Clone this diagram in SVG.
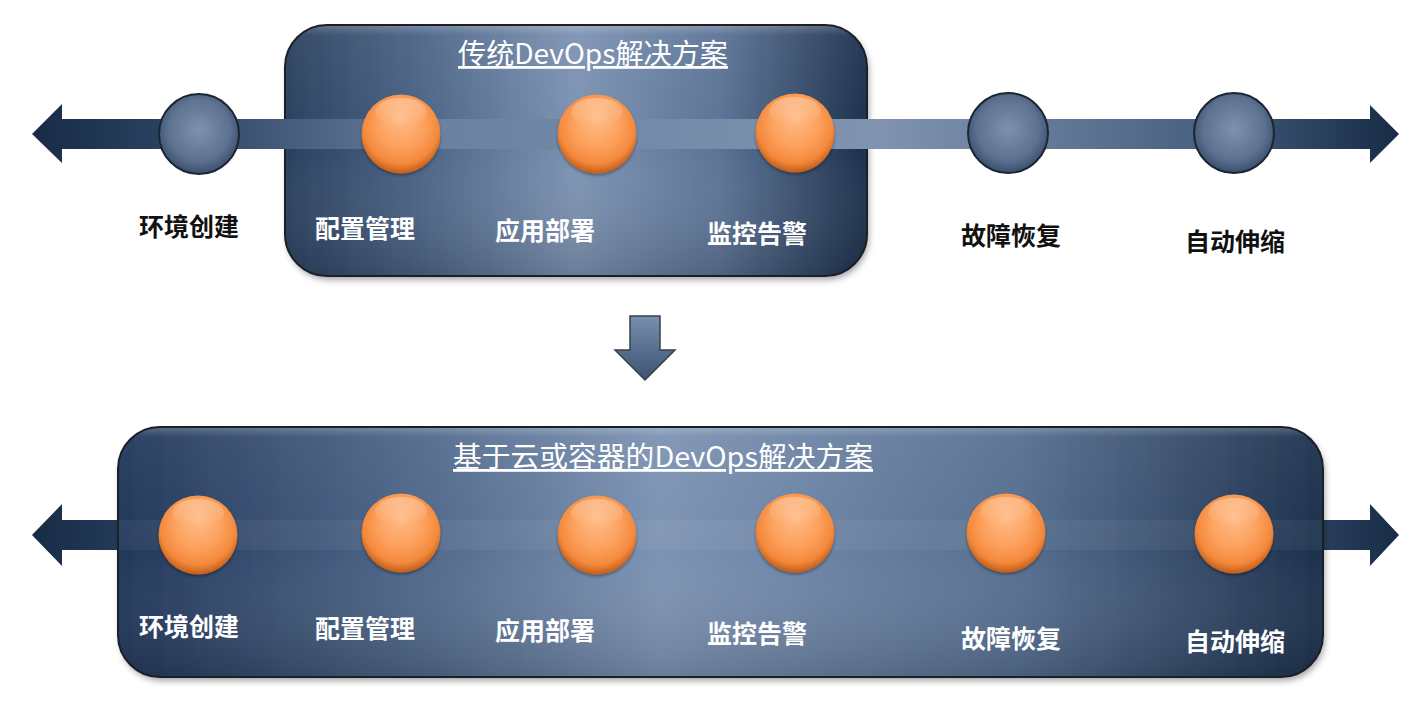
<svg xmlns="http://www.w3.org/2000/svg" width="1428" height="714" viewBox="0 0 1428 714">
<defs>
  <linearGradient id="panelTop" x1="285" y1="0" x2="867" y2="0" gradientUnits="userSpaceOnUse">
    <stop offset="0" stop-color="#2a405f"/>
    <stop offset="0.25" stop-color="#4f6789"/>
    <stop offset="0.5" stop-color="#7d93b3"/>
    <stop offset="0.75" stop-color="#5b7395"/>
    <stop offset="1" stop-color="#1c304c"/>
  </linearGradient>
  <linearGradient id="panelBot" x1="118" y1="0" x2="1323" y2="0" gradientUnits="userSpaceOnUse">
    <stop offset="0" stop-color="#22375a"/>
    <stop offset="0.25" stop-color="#50688a"/>
    <stop offset="0.45" stop-color="#7d93b3"/>
    <stop offset="0.75" stop-color="#566e90"/>
    <stop offset="1" stop-color="#1c304c"/>
  </linearGradient>
  <linearGradient id="panelShade" x1="0" y1="0" x2="0" y2="1">
    <stop offset="0" stop-color="#ffffff" stop-opacity="0.25"/>
    <stop offset="0.04" stop-color="#ffffff" stop-opacity="0.05"/>
    <stop offset="0.5" stop-color="#ffffff" stop-opacity="0"/>
    <stop offset="1" stop-color="#000000" stop-opacity="0.15"/>
  </linearGradient>
  <linearGradient id="band" x1="32" y1="0" x2="1399" y2="0" gradientUnits="userSpaceOnUse">
    <stop offset="0" stop-color="#172b46"/>
    <stop offset="0.12" stop-color="#2f4666"/>
    <stop offset="0.3" stop-color="#6a81a1"/>
    <stop offset="0.62" stop-color="#8094b0"/>
    <stop offset="0.85" stop-color="#4a6283"/>
    <stop offset="1" stop-color="#172b46"/>
  </linearGradient>
  <linearGradient id="downGrad" x1="0" y1="0" x2="0" y2="1">
    <stop offset="0" stop-color="#7a8fae"/>
    <stop offset="1" stop-color="#3b5273"/>
  </linearGradient>
  <radialGradient id="grayBall" cx="0.5" cy="0.45" r="0.55">
    <stop offset="0" stop-color="#7f91ad"/>
    <stop offset="0.7" stop-color="#5d7191"/>
    <stop offset="1" stop-color="#3a4f6d"/>
  </radialGradient>
  <radialGradient id="orangeBall" cx="0.5" cy="0.42" r="0.56" fx="0.5" fy="0.3">
    <stop offset="0" stop-color="#ffbc88"/>
    <stop offset="0.55" stop-color="#fca05c"/>
    <stop offset="0.85" stop-color="#f4893c"/>
    <stop offset="1" stop-color="#c9641f"/>
  </radialGradient>
  <linearGradient id="gloss" x1="0" y1="0" x2="0" y2="1">
    <stop offset="0" stop-color="#ffffff" stop-opacity="0.3"/>
    <stop offset="1" stop-color="#ffffff" stop-opacity="0"/>
  </linearGradient>
  <filter id="shadow" x="-5%" y="-10%" width="110%" height="125%">
    <feDropShadow dx="2" dy="4" stdDeviation="3" flood-color="#000" flood-opacity="0.35"/>
  </filter>
  <filter id="ballShadow" x="-20%" y="-20%" width="140%" height="140%">
    <feDropShadow dx="0" dy="2" stdDeviation="1.5" flood-color="#000" flood-opacity="0.35"/>
  </filter>
</defs>
<style>
  .panel-stroke { fill: none; stroke: #1b1f26; stroke-width: 2; }
  .gray { fill: url(#grayBall); stroke: #1c2633; stroke-width: 2; }
  .orange { fill: url(#orangeBall); filter: url(#ballShadow); }
  .gl { fill: url(#gloss); }
  .lbl { font-family: "Noto Sans CJK SC", "Noto Sans", sans-serif; font-weight: bold; font-size: 25px; text-anchor: middle; }
  .dark { fill: #111111; }
  .light { fill: #ffffff; }
  .title { font-family: "Noto Sans CJK SC", "Noto Sans", sans-serif; font-size: 28px; fill: #ffffff; text-decoration: underline; }
</style>

<!-- Bottom arrow band (under its panel) -->
<g id="connectors-bottom-band">
  <path d="M32,535 L62,504 L62,520 L1370,520 L1370,504 L1399,535 L1370,566 L1370,550 L62,550 L62,566 Z" fill="url(#band)"/>
</g>
<g id="panel-bottom">
  <rect x="118" y="427" width="1205" height="250" rx="42" fill="url(#panelBot)" filter="url(#shadow)"/>
  <rect x="118" y="427" width="1205" height="250" rx="42" fill="url(#panelShade)"/>
  <rect x="118" y="520" width="1205" height="30" fill="#ffffff" fill-opacity="0.05"/>
  <rect x="118" y="427" width="1205" height="250" rx="42" class="panel-stroke"/>
  <text class="title" x="453" y="467" textLength="420" lengthAdjust="spacingAndGlyphs">基于云或容器的DevOps解决方案</text>
</g>

<!-- Top panel -->
<g id="panel-top">
  <rect x="285" y="25" width="582" height="251" rx="42" fill="url(#panelTop)" filter="url(#shadow)"/>
  <rect x="285" y="25" width="582" height="251" rx="42" fill="url(#panelShade)"/>
  <rect x="285" y="25" width="582" height="251" rx="42" class="panel-stroke"/>
  <text class="title" x="458" y="64" textLength="270" lengthAdjust="spacingAndGlyphs">传统DevOps解决方案</text>
</g>

<g id="connectors">
  <path d="M32,134 L62,104 L62,119 L1370,119 L1370,105 L1399,134 L1370,163 L1370,149 L62,149 L62,163 Z" fill="url(#band)"/>
  <path d="M630,316 L660,316 L660,350 L675,350 L645,380 L615,350 L630,350 Z" fill="url(#downGrad)" stroke="#3a3f48" stroke-width="1.5"/>
</g>

<!-- Top row nodes -->
<g id="top-env"><circle cx="199" cy="134" r="40" class="gray"/><text class="lbl dark" x="189" y="236">环境创建</text></g>
<g id="top-config"><circle cx="401" cy="134" r="39.5" class="orange"/><ellipse cx="401" cy="112" rx="26" ry="14" class="gl"/><text class="lbl light" x="365" y="238">配置管理</text></g>
<g id="top-deploy"><circle cx="597" cy="134" r="39.5" class="orange"/><ellipse cx="597" cy="112" rx="26" ry="14" class="gl"/><text class="lbl light" x="545" y="240">应用部署</text></g>
<g id="top-monitor"><circle cx="795" cy="133" r="39.5" class="orange"/><ellipse cx="795" cy="111" rx="26" ry="14" class="gl"/><text class="lbl light" x="757" y="243">监控告警</text></g>
<g id="top-recover"><circle cx="1008" cy="133" r="40" class="gray"/><text class="lbl dark" x="1011" y="245">故障恢复</text></g>
<g id="top-scale"><circle cx="1234" cy="133" r="40" class="gray"/><text class="lbl dark" x="1235" y="251">自动伸缩</text></g>

<!-- Bottom row nodes -->
<g id="bot-env"><circle cx="198" cy="535" r="39.5" class="orange"/><ellipse cx="198" cy="513" rx="26" ry="14" class="gl"/><text class="lbl light" x="189" y="636">环境创建</text></g>
<g id="bot-config"><circle cx="401" cy="533" r="39.5" class="orange"/><ellipse cx="401" cy="511" rx="26" ry="14" class="gl"/><text class="lbl light" x="365" y="638">配置管理</text></g>
<g id="bot-deploy"><circle cx="597" cy="535" r="39.5" class="orange"/><ellipse cx="597" cy="513" rx="26" ry="14" class="gl"/><text class="lbl light" x="545" y="640">应用部署</text></g>
<g id="bot-monitor"><circle cx="795" cy="533" r="39.5" class="orange"/><ellipse cx="795" cy="511" rx="26" ry="14" class="gl"/><text class="lbl light" x="757" y="643">监控告警</text></g>
<g id="bot-recover"><circle cx="1006" cy="533" r="39.5" class="orange"/><ellipse cx="1006" cy="511" rx="26" ry="14" class="gl"/><text class="lbl light" x="1011" y="648">故障恢复</text></g>
<g id="bot-scale"><circle cx="1234" cy="534" r="39.5" class="orange"/><ellipse cx="1234" cy="512" rx="26" ry="14" class="gl"/><text class="lbl light" x="1235" y="651">自动伸缩</text></g>
</svg>
